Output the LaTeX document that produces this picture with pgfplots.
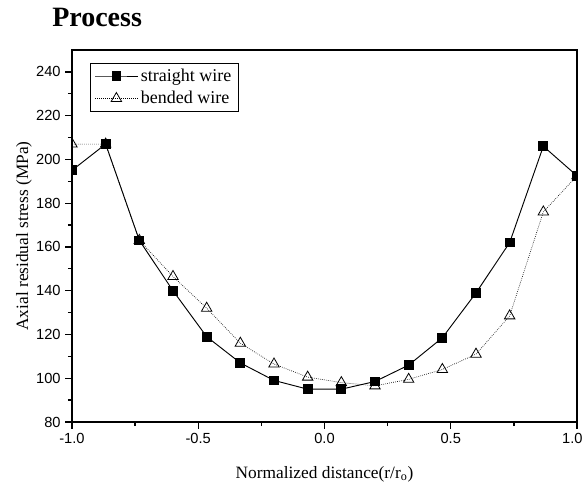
\documentclass[border=0pt]{standalone}
\usepackage{fontspec}
\setmainfont{Liberation Serif}
\newfontfamily\arialfont{Liberation Sans}
\usepackage{pgfplots}
\pgfplotsset{compat=1.18}

\begin{document}
\begin{tikzpicture}
\begin{axis}[name=ax,scale only axis,width=378.75pt,height=279pt,
  xmin=-1,xmax=1,ymin=80,ymax=250,
  xtick={-1,-0.5,0,0.5,1},xticklabels={-1.0,-0.5,0.0,0.5,\hspace*{-7pt}1.0},
  ytick={80,100,...,240},minor x tick num=1,minor y tick num=1,
  tick pos=left,tick align=outside,
  major tick length=5pt,minor tick length=3pt,
  every tick/.style={black,line width=1pt},
  axis line style={line width=1.4pt},
  /pgf/number format/assume math mode=true,
  tick label style={font=\arialfont\fontsize{11}{13}\selectfont},
  xlabel={Normalized distance(r/r\textsubscript{o})},
  ylabel={Axial residual stress (MPa)},
  label style={font=\fontsize{13}{15}\selectfont},
  xlabel style={at={(axis description cs:0.5,0)},anchor=base,yshift=-42pt},
  ylabel style={at={(axis description cs:-0.095,0.5)},anchor=center},
  clip marker paths=true,
  legend style={at={(0.036,0.965)},anchor=north west,draw=black,line width=0.6pt,
    font=\fontsize{13.5}{16}\selectfont,inner xsep=3pt,inner ysep=2pt,row sep=2pt},
  legend cell align=left,
  legend image code/.code={\draw[mark repeat=2,mark phase=2] plot coordinates {(0pt,0pt)(16pt,0pt)(32pt,0pt)};},
]
\addplot[black,line width=0.7pt,mark=square*,mark size=3.3pt,mark options={solid}] coordinates {
(-1,195) (-0.8667,207) (-0.7333,163) (-0.6,140) (-0.4667,119) (-0.3333,107)
(-0.2,99) (-0.0667,95) (0.0667,95) (0.2,98.5) (0.3333,106) (0.4667,118.5)
(0.6,139) (0.7333,162) (0.8667,206) (1,192.5)};
\addlegendentry{straight wire\hspace{7pt}}
\addplot[black,line width=0.5pt,densely dotted,mark=triangle,mark size=4.5pt,mark options={solid,fill=white,line width=0.6pt}] coordinates {
(-1,207) (-0.8667,207) (-0.7333,163) (-0.6,146.5) (-0.4667,132) (-0.3333,116)
(-0.2,106.5) (-0.0667,100.5) (0.0667,98) (0.2,96.5) (0.3333,99.5) (0.4667,104)
(0.6,111) (0.7333,128.5) (0.8667,176) (1,192.5)};
\addlegendentry{bended wire}
\end{axis}
\node[anchor=base west,font=\bfseries\fontsize{21}{24}\selectfont,inner sep=0pt] at ([xshift=-15pt,yshift=296.25pt]ax.south west) {Process};
\pgfresetboundingbox
\path[use as bounding box] (ax.south west) ++(-54pt,-47.25pt) rectangle ++(438.75pt,363.75pt);
\end{tikzpicture}
\end{document}
